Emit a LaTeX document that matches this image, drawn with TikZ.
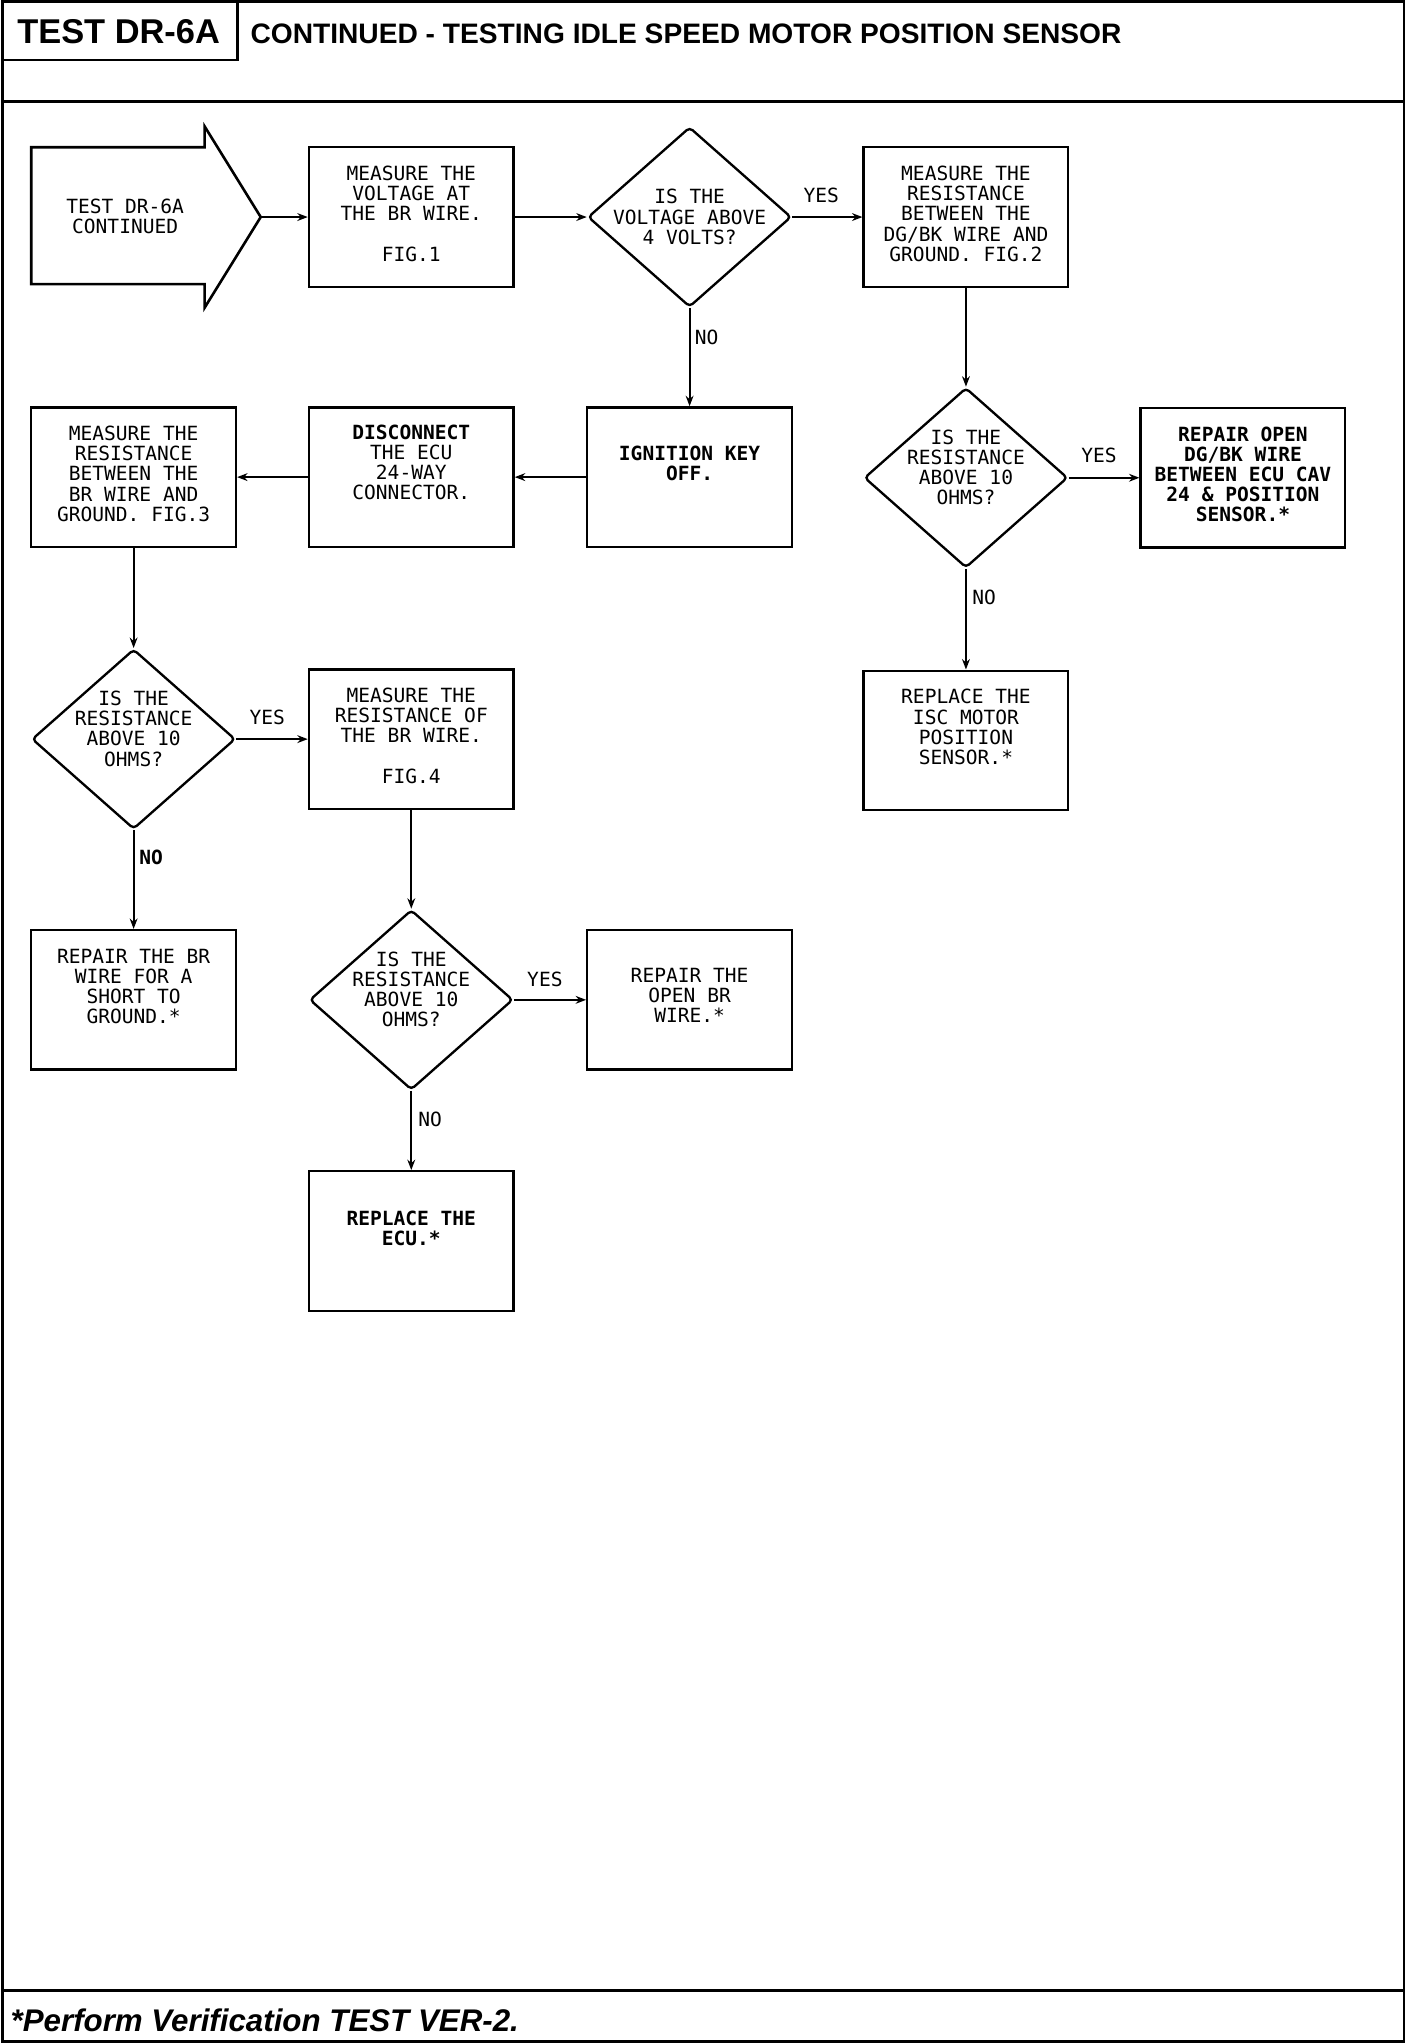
\documentclass[tikz,border=0pt]{standalone}
\usepackage{fontspec}
\setmainfont{Liberation Sans}
\newfontfamily\plotfont{DejaVu Sans Mono}
\usetikzlibrary{shapes.geometric,positioning,arrows.meta}

\tikzset{
  frame/.style={line width=2pt},
  box/.style={draw, line width=1.8pt, minimum width=157pt, minimum height=107pt, inner sep=0},
  ask/.style={draw, diamond, line width=1.8pt, minimum width=156pt, minimum height=138pt, inner sep=0, rounded corners=3pt},
  txt/.style={align=center, inner sep=0, font=\fontsize{15}{15.5}\selectfont\plotfont},
  btxt/.style={txt, font=\fontsize{15}{15.5}\selectfont\plotfont\bfseries},
  flow/.style={line width=1.4pt, -{Stealth[length=8pt,width=6pt]}},
}

\begin{document}
\begin{tikzpicture}[x=1pt,y=-1pt]
\useasboundingbox (0,0) rectangle (1080,1568);
% page frame
\draw[frame] (2,1) rectangle (1077,1566);
\draw[frame] (2,46) -- (182,46) -- (182,1);
\draw[frame] (2,78) -- (1077,78);
\draw[frame] (2,1527) -- (1077,1527);
\node[inner sep=0, font=\bfseries\fontsize{26.4}{27}\selectfont] (testid) at (91,24) {TEST DR-6A};
\node[anchor=west, inner sep=0, font=\bfseries\fontsize{21.6}{22}\selectfont] (title) at (192,26) {CONTINUED - TESTING IDLE SPEED MOTOR POSITION SENSOR};
\node[anchor=west, inner sep=0, font=\bfseries\itshape\fontsize{24}{24}\selectfont] (verify) at (8,1550) {*Perform Verification TEST VER-2.};

% start arrow
\draw[frame] (24,113) -- (157,113) -- (157,97) -- (200,166.5) -- (157,236) -- (157,218) -- (24,218) -- cycle;
\coordinate (starttip) at (200,166.5);
\node[txt] (start) at (96,166) {TEST DR-6A\\CONTINUED};

% row 1
\node[box] (fig1) at (315.5,166.5) {};
\node[txt, below=15pt of fig1.north] (fig1t) {MEASURE THE\\VOLTAGE AT\\THE BR WIRE.\\[15.5pt]FIG.1};
\node[ask] (volt) at (529,166.5) {};
\node[txt] (voltt) at (529,166.5) {IS THE\\VOLTAGE ABOVE\\4 VOLTS?};
\node[box] (dgbk) at (741,166.5) {};
\node[txt, below=15pt of dgbk.north] (dgbkt) {MEASURE THE\\RESISTANCE\\BETWEEN THE\\DG/BK WIRE AND\\GROUND. FIG.2};

% row 2
\node[box] (brgnd) at (102.5,366) {};
\node[txt, below=15pt of brgnd.north] (brgndt) {MEASURE THE\\RESISTANCE\\BETWEEN THE\\BR WIRE AND\\GROUND. FIG.3};
\node[box] (disc) at (315.5,366) {};
\node[txt, below=14pt of disc.north] (disct) {\textbf{DISCONNECT}\\THE ECU\\24-WAY\\CONNECTOR.};
\node[box] (ign) at (529,366) {};
\node[btxt, below=30pt of ign.north] (ignt) {IGNITION KEY\\OFF.};
\node[ask] (res2) at (741,366.5) {};
\node[txt, yshift=8pt] (res2t) at (res2) {IS THE\\RESISTANCE\\ABOVE 10\\OHMS?};
\node[box] (repopen) at (953.5,366.5) {};
\node[btxt, below=15pt of repopen.north] (repopent) {REPAIR OPEN\\DG/BK WIRE\\BETWEEN ECU CAV\\24 \& POSITION\\SENSOR.*};

% row 3
\node[ask] (res3) at (102.5,567) {};
\node[txt, yshift=8pt] (res3t) at (res3) {IS THE\\RESISTANCE\\ABOVE 10\\OHMS?};
\node[box] (fig4) at (315.5,567) {};
\node[txt, below=15pt of fig4.north] (fig4t) {MEASURE THE\\RESISTANCE OF\\THE BR WIRE.\\[15.5pt]FIG.4};
\node[box] (isc) at (741,568) {};
\node[txt, below=15pt of isc.north] (isct) {REPLACE THE\\ISC MOTOR\\POSITION\\SENSOR.*};

% row 4
\node[box] (short) at (102.5,767) {};
\node[txt, below=15pt of short.north] (shortt) {REPAIR THE BR\\WIRE FOR A\\SHORT TO\\GROUND.*};
\node[ask] (res4) at (315.5,767) {};
\node[txt, yshift=8pt] (res4t) at (res4) {IS THE\\RESISTANCE\\ABOVE 10\\OHMS?};
\node[box] (openbr) at (529,767) {};
\node[txt, below=30pt of openbr.north] (openbrt) {REPAIR THE\\OPEN BR\\WIRE.*};

% row 5
\node[box] (ecu) at (315.5,952) {};
\node[btxt, below=31pt of ecu.north] (ecut) {REPLACE THE\\ECU.*};

% connectors
\draw[flow] (starttip) -- (fig1.west);
\draw[flow] (fig1.east) -- (volt.west);
\draw[flow] (volt.east) -- (dgbk.west);
\draw[flow] (volt.south) -- (ign.north);
\draw[flow] (dgbk.south) -- (res2.north);
\draw[flow] (res2.east) -- (repopen.west);
\draw[flow] (res2.south) -- (isc.north);
\draw[flow] (ign.west) -- (disc.east);
\draw[flow] (disc.west) -- (brgnd.east);
\draw[flow] (brgnd.south) -- (res3.north);
\draw[flow] (res3.east) -- (fig4.west);
\draw[flow] (res3.south) -- (short.north);
\draw[flow] (fig4.south) -- (res4.north);
\draw[flow] (res4.east) -- (openbr.west);
\draw[flow] (res4.south) -- (ecu.north);

% answers
\node[txt] (yes1) at (630,150) {YES};
\node[txt] (no1) at (542,259) {NO};
\node[txt] (yes2) at (843,349) {YES};
\node[txt] (no2) at (755,458) {NO};
\node[txt] (yes3) at (205,550) {YES};
\node[btxt] (no3) at (116,658) {NO};
\node[txt] (yes4) at (418,751) {YES};
\node[txt] (no4) at (330,859) {NO};
\end{tikzpicture}
\end{document}
